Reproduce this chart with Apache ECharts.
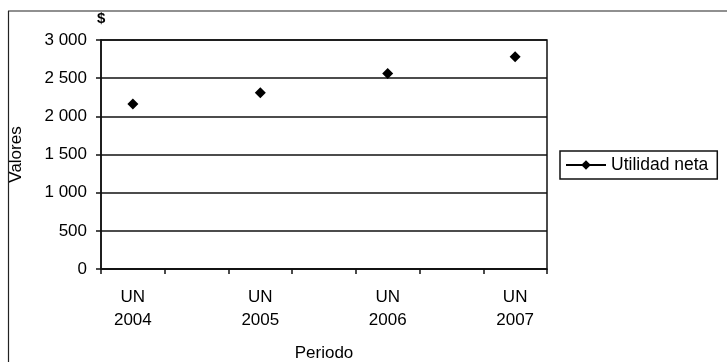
<!DOCTYPE html>
<html><head><meta charset="utf-8">
<script src="https://cdn.jsdelivr.net/npm/echarts@6/dist/echarts.min.js"></script>
<style>html,body{margin:0;padding:0;background:#fff}#c{width:727px;height:362px}</style>
</head><body><div id="c"></div>
<script>
const categories = ['UN\n2004', '', 'UN\n2005', '', 'UN\n2006', '', 'UN\n2007'];
const utilidadNeta = [2160, null, 2310, null, 2560, null, 2780];
const yTicks = [0, 500, 1000, 1500, 2000, 2500, 3000];
const seriesName = 'Utilidad neta';

const font = '"Liberation Sans", Arial, sans-serif';
const fs = 17;
const chart = echarts.init(document.getElementById('c'), null, {renderer: 'canvas'});
chart.setOption({
  animation: false,
  backgroundColor: '#fff',
  textStyle: {fontFamily: font, color: '#000'},
  grid: {left: 101, top: 40, right: 180, bottom: 93, containLabel: false, outerBoundsMode: 'none',
    show: true, borderColor: '#111', borderWidth: 1.5},
  legend: {
    left: 560, top: 151,
    orient: 'vertical',
    padding: [5, 9, 5, 5],
    borderColor: '#111', borderWidth: 1.5,
    itemWidth: 40, itemHeight: 12, itemGap: 4,
    textStyle: {fontFamily: font, fontSize: 17.5, color: '#000'},
    data: [seriesName]
  },
  xAxis: {
    type: 'category',
    data: categories,
    boundaryGap: true,
    name: 'Periodo',
    nameLocation: 'middle',
    nameGap: 76,
    nameTextStyle: {fontFamily: font, fontSize: fs, color: '#000'},
    axisLine: {lineStyle: {color: '#111', width: 1.5}},
    axisTick: {show: true, interval: 0, length: 5, lineStyle: {color: '#111', width: 1.5}},
    axisLabel: {interval: 0, margin: 17, lineHeight: 23, fontFamily: font, fontSize: fs, color: '#000'},
    splitLine: {show: false}
  },
  yAxis: {
    type: 'value',
    min: yTicks[0], max: yTicks[yTicks.length - 1], interval: 500,
    name: 'Valores',
    nameLocation: 'middle',
    nameGap: 76,
    nameRotate: 90,
    nameTextStyle: {fontFamily: font, fontSize: fs, color: '#000', padding: [0, 0, 0, 0]},
    axisLine: {show: true, lineStyle: {color: '#111', width: 1.5}},
    axisTick: {show: true, length: 5, lineStyle: {color: '#111', width: 1.5}},
    axisLabel: {margin: 14, fontFamily: font, fontSize: fs, color: '#000',
      formatter: v => String(v).replace(/\B(?=(\d{3})+(?!\d))/g, ' ')},
    splitLine: {show: true, lineStyle: {color: '#111', width: 1.5}}
  },
  graphic: [
    {type: 'line', shape: {x1: 8.5, y1: 11, x2: 8.5, y2: 362}, style: {stroke: '#222', lineWidth: 1.2}},
    {type: 'line', shape: {x1: 8, y1: 11, x2: 727, y2: 11}, style: {stroke: '#222', lineWidth: 1.2}},
    {type: 'text', left: 97, top: 11, style: {text: '$', font: 'bold 15px ' + font, fill: '#000'}}
  ],
  series: [{
    name: seriesName,
    type: 'line',
    data: utilidadNeta,
    connectNulls: false,
    symbol: 'diamond',
    symbolSize: 11,
    showAllSymbol: true,
    itemStyle: {color: '#000'},
    lineStyle: {color: '#000', width: 1}
  }]
});
</script></body></html>
